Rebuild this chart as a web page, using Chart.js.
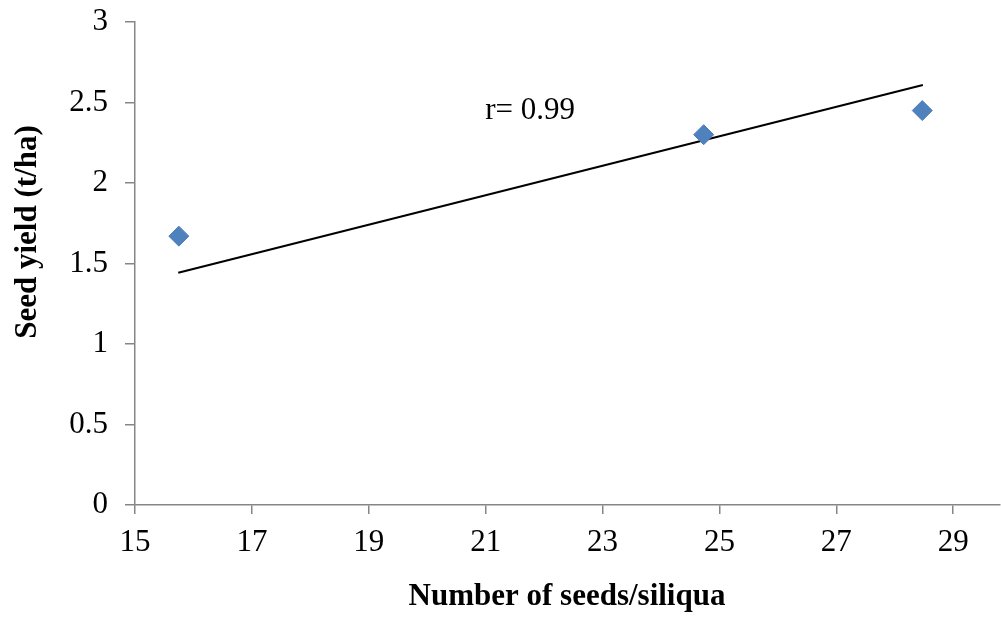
<!DOCTYPE html>
<html>
<head>
<meta charset="utf-8">
<title>Seed yield vs seeds per siliqua</title>
<script src="https://cdn.jsdelivr.net/npm/chart.js@4"></script>
<style>
  html, body { margin: 0; padding: 0; background: #fff; }
  #wrap { width: 1001px; height: 619px; }
</style>
</head>
<body>
<div id="wrap"><canvas id="chart" width="1001" height="619"></canvas></div>
<script>
// observed points
const seedsPerSiliqua = [15.75, 24.73, 28.47];
const seedYield = [1.67, 2.30, 2.45];

// fitted line end points
const trendX = [15.74, 28.48];
const trendY = [1.443, 2.609];

// axis ticks
const xTicks = [15, 17, 19, 21, 23, 25, 27, 29];
const yTicks = [0, 0.5, 1, 1.5, 2, 2.5, 3];

const rText = 'r= 0.99';
const rAt = { x: 21.76, y: 2.447 };

const serif = '"Liberation Serif", "Times New Roman", serif';
const axisGrey = '#868686';

// axis titles and the r label
const textPlugin = {
  id: 'textPlugin',
  afterDraw(chart) {
    const ctx = chart.ctx;
    const xs = chart.scales.x, ys = chart.scales.y;
    ctx.save();
    ctx.fillStyle = '#000';
    ctx.textAlign = 'center';
    ctx.textBaseline = 'middle';

    ctx.font = '31px ' + serif;
    ctx.fillText(rText, xs.getPixelForValue(rAt.x), ys.getPixelForValue(rAt.y));

    ctx.font = 'bold 31px ' + serif;
    ctx.fillText('Number of seeds/siliqua', 567, 597);

    ctx.translate(28, 232);
    ctx.rotate(-Math.PI / 2);
    ctx.fillText('Seed yield (t/ha)', 0, 0);
    ctx.restore();
  }
};

// keep the plot area where the layout padding puts it
function noEdgePadding(s) {
  s.paddingTop = 0;
  s.paddingBottom = 0;
  s.paddingLeft = 0;
  s.paddingRight = 0;
}

const ctx = document.getElementById('chart');
new Chart(ctx, {
  type: 'scatter',
  data: {
    datasets: [
      {
        label: 'Seed yield',
        data: seedsPerSiliqua.map((x, i) => ({ x: x, y: seedYield[i] })),
        pointStyle: 'rectRot',
        pointRadius: 10,
        pointHoverRadius: 10,
        backgroundColor: '#4F81BD',
        borderColor: '#4A7EBB',
        borderWidth: 1,
        order: 1
      },
      {
        type: 'line',
        label: 'Trend',
        data: trendX.map((x, i) => ({ x: x, y: trendY[i] })),
        borderColor: '#000',
        borderWidth: 2,
        pointRadius: 0,
        fill: false,
        order: 2
      }
    ]
  },
  options: {
    responsive: false,
    animation: false,
    layout: {
      autoPadding: false,
      padding: { left: 0, right: 1, top: 22, bottom: 0 }
    },
    plugins: {
      legend: { display: false },
      tooltip: { enabled: false }
    },
    scales: {
      x: {
        type: 'linear',
        min: 15,
        max: 29.8,
        afterBuildTicks: (s) => { s.ticks = xTicks.map(v => ({ value: v })); },
        afterFit: (s) => { s.height = 114; noEdgePadding(s); },
        grid: {
          drawOnChartArea: false,
          drawTicks: true,
          tickLength: 9,
          color: axisGrey,
          lineWidth: 1.5
        },
        border: { color: axisGrey, width: 1.5 },
        ticks: {
          color: '#000',
          font: { family: serif, size: 31 },
          padding: 10,
          maxRotation: 0,
          autoSkip: false,
          callback: (v) => String(v)
        }
      },
      y: {
        min: 0,
        max: 3,
        afterBuildTicks: (s) => { s.ticks = yTicks.map(v => ({ value: v })); },
        afterFit: (s) => { s.width = 135; noEdgePadding(s); },
        grid: {
          drawOnChartArea: false,
          drawTicks: true,
          tickLength: 10,
          color: axisGrey,
          lineWidth: 1.5
        },
        border: { color: axisGrey, width: 1.5 },
        ticks: {
          color: '#000',
          font: { family: serif, size: 31 },
          padding: 17,
          callback: (v) => String(v)
        }
      }
    }
  },
  plugins: [textPlugin]
});
</script>
</body>
</html>
